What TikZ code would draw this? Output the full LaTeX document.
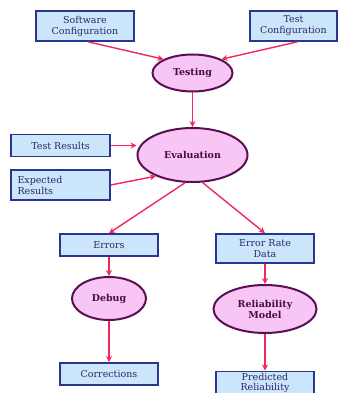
\documentclass[tikz,border=0pt]{standalone}
\usepackage{fontspec}
\setmainfont{DejaVu Serif}
\usetikzlibrary{arrows.meta,shapes.geometric}
\definecolor{boxfill}{HTML}{CBE6FA}
\definecolor{boxline}{HTML}{2A3590}
\definecolor{ovalfill}{HTML}{F7C6F5}
\definecolor{ovalline}{HTML}{5A0F55}
\definecolor{flow}{HTML}{F0285C}
\definecolor{ink}{HTML}{2A2668}
\tikzset{
  box/.style={draw=boxline,fill=boxfill,line width=1.6pt,minimum width=98pt,minimum height=22pt,align=center,inner sep=1pt,font=\fontsize{9.5}{11}\selectfont,text=ink},
  oval/.style={ellipse,draw=ovalline,fill=ovalfill,line width=2pt,inner sep=0pt,align=center,font=\fontsize{9.5}{11}\selectfont\bfseries,text=ovalline!80!black},
  arr/.style={-{Stealth[length=6pt,width=6pt]},line width=1.4pt,draw=flow}
}
\begin{document}
\begin{tikzpicture}[x=1pt,y=-1pt]
\useasboundingbox (0,0) rectangle (338,393);
\node[box,minimum height=30pt] (swc) at (85,26) {Software\\Configuration};
\node[box,minimum width=87pt,minimum height=30pt,text width=85pt] (tc) at (293.5,26) {Test\\Configuration};
\node[oval,minimum width=80pt,minimum height=37pt] (test) at (192.5,73) {Testing};
\node[oval,minimum width=110pt,minimum height=54pt] (eval) at (192.5,155) {Evaluation};
\node[box,minimum width=99pt] (tres) at (60.5,145.5) {Test Results};
\node[box,minimum width=99pt,minimum height=30pt,align=left,text width=86pt] (eres) at (60.5,185) {Expected\\Results};
\node[box] (err) at (109,245) {Errors};
\node[box,minimum height=29pt] (erd) at (265,248.5) {Error Rate\\Data};
\node[oval,minimum width=74pt,minimum height=43pt] (dbg) at (109,298.5) {Debug};
\node[oval,minimum width=103pt,minimum height=48pt] (rel) at (265,309) {Reliability\\Model};
\node[box] (cor) at (109,374) {Corrections};
\node[box,anchor=north,minimum height=23pt,font=\fontsize{9.5}{10}\selectfont] (pred) at (265,370.5) {Predicted\\Reliability};
\draw[arr] (swc.south) ++(3,0) coordinate (a1) -- (test.north west);
\draw[arr] (tc.south) ++(4,0) coordinate (a2) -- (test.north east);
\draw[arr] (test) -- (eval);
\draw[arr] (tres) -- (tres -| eval.west);
\draw[arr] (eres.east) -- (eval.-150);
\draw[arr] (eval.-105) -- (err.north);
\draw[arr] (eval.-70) -- (erd.north);
\foreach \a/\b in {err/dbg,dbg/cor,erd/rel,rel/pred}\draw[arr] (\a)--(\b);
\end{tikzpicture}
\end{document}
